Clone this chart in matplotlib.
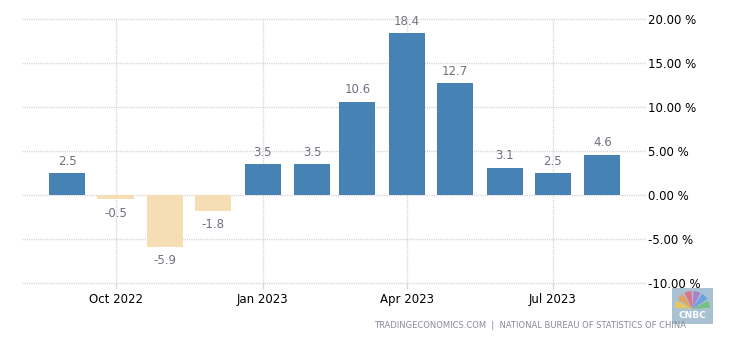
import matplotlib
matplotlib.use("Agg")
import matplotlib.pyplot as plt
import matplotlib.dates as mdates
from matplotlib.patches import FancyBboxPatch, Wedge
import numpy as np
import pandas as pd

# China retail sales, year-over-year change (%)
months = ["2022-09", "2022-10", "2022-11", "2022-12", "2023-01", "2023-02",
          "2023-03", "2023-04", "2023-05", "2023-06", "2023-07", "2023-08"]
values = [2.5, -0.5, -5.9, -1.8, 3.5, 3.5, 10.6, 18.4, 12.7, 3.1, 2.5, 4.6]
tick_months = ["2022-10", "2023-01", "2023-04", "2023-07"]
tick_labels = ["Oct 2022", "Jan 2023", "Apr 2023", "Jul 2023"]
y_ticks = [-10, -5, 0, 5, 10, 15, 20]

POS = "#4682b4"
NEG = "#f5deb3"
LABEL = "#72707e"

dates = pd.to_datetime(months)
x = mdates.date2num(dates)

fig = plt.figure(figsize=(7.3, 3.4), dpi=100)
ax = fig.add_axes([22 / 730, 1 - 283 / 340, 624 / 730, (283 - 19.3) / 340])

colors = [POS if v >= 0 else NEG for v in values]
ax.bar(x, values, width=22.5, color=colors, zorder=2)

for xi, v in zip(x, values):
    off = 12 if v >= 0 else -14
    ax.annotate(f"{v:.1f}", (xi, v), xytext=(0, off), textcoords="offset pixels",
                ha="center", va="center", fontsize=8.5, color=LABEL, zorder=3)

x0 = mdates.date2num(pd.Timestamp("2022-09-01")) - 28.4
x1 = mdates.date2num(pd.Timestamp("2023-08-01")) + 27.3
ax.set_xlim(x0, x1)
ax.set_ylim(-10, 20)

ax.set_xticks(mdates.date2num(pd.to_datetime(tick_months)))
ax.set_xticklabels(tick_labels)
ax.set_yticks(y_ticks)
ax.set_yticklabels([f"{t:.2f} %" for t in y_ticks])
ax.yaxis.tick_right()

ax.tick_params(axis="x", length=4, width=1, color="#d8d8d8", labelsize=8.5,
               labelcolor="black", pad=3)
ax.tick_params(axis="y", length=0, labelsize=8.5, labelcolor="black", pad=1.5)

ax.grid(True, linestyle=(0, (0.8, 0.8)), color="#d4d4d4", linewidth=1, zorder=0)
ax.set_axisbelow(True)
for gl in ax.get_xgridlines() + ax.get_ygridlines():
    gl.set_clip_on(False)
for s in ax.spines.values():
    s.set_visible(False)

fig.text(686 / 730, 1 - 325 / 340,
         "TRADINGECONOMICS.COM  |  NATIONAL BUREAU OF STATISTICS OF CHINA",
         ha="right", va="center", fontsize=6.0, color="#8a8a96")

# CNBC watermark badge
bx, by, bw, bh = 672 / 730, 1 - 324 / 340, 41 / 730, 36 / 340
badge = FancyBboxPatch((bx, by), bw, bh, boxstyle="square,pad=0",
                       transform=fig.transFigure, facecolor="#9ab8cc",
                       edgecolor="none", alpha=0.85, zorder=2)
fig.add_artist(badge)
fan_ax = fig.add_axes([bx, by + bh * 0.38, bw, bh * 0.6], zorder=3)
fan_ax.set_xlim(-1.3, 1.3)
fan_ax.set_ylim(-0.1, 1.3)
fan_ax.set_aspect("equal")
fan_ax.axis("off")
fan_cols = ["#f5c84a", "#f39a4a", "#e6607a", "#a874c8", "#5a9ae0", "#6cc070"]
for i, c in enumerate(fan_cols):
    a0 = 180 - (i + 1) * 30
    fan_ax.add_patch(Wedge((0, 0), 1.15, a0 + 3, a0 + 27, facecolor=c,
                           edgecolor="none", alpha=0.8))
fig.text(692.5 / 730, 1 - 316 / 340, "CNBC", ha="center", va="center",
         fontsize=6.5, fontweight="bold", color="white", zorder=4)

fig.savefig("out.png", dpi=100)
